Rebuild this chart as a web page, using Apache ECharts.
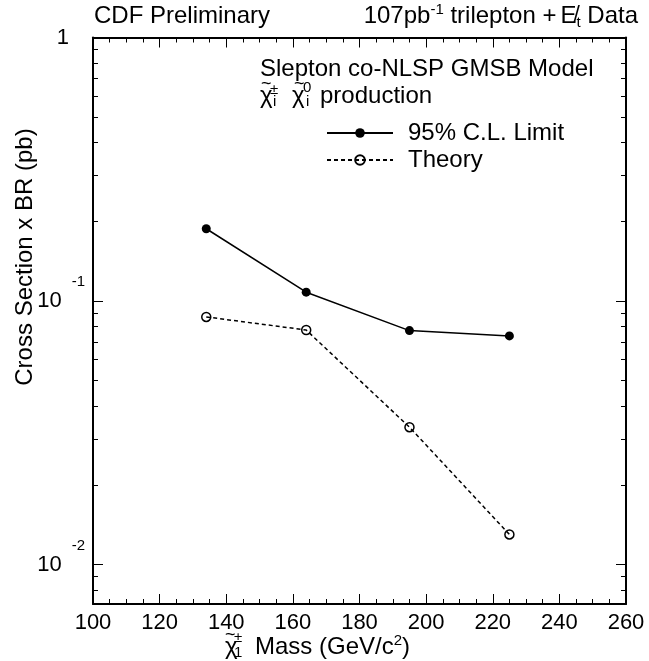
<!DOCTYPE html>
<html>
<head>
<meta charset="utf-8">
<script src="https://cdn.jsdelivr.net/npm/echarts@6/dist/echarts.min.js"></script>
<style>
  html, body { margin: 0; padding: 0; background: #fff; }
  #chart { width: 649px; height: 661px; }
</style>
</head>
<body>
<div id="chart"></div>
<script>
// Chargino mass points (GeV/c^2) and cross section x BR (pb)
const massPoints = [134, 164, 195, 225];
const limitXsec = [0.188, 0.108, 0.0772, 0.0737];
const theoryXsec = [0.087, 0.0776, 0.0332, 0.0130];

// Axis ranges and tick positions
const xRange = [100, 260];
const xStep = 20;
const yRange = [0.00708, 1];
const yMajorTicks = [0.01, 0.1, 1];
const yMinorTicks = [0.008, 0.009,
  0.02, 0.03, 0.04, 0.05, 0.06, 0.07, 0.08, 0.09,
  0.2, 0.3, 0.4, 0.5, 0.6, 0.7, 0.8, 0.9];

const seriesNames = ['95% C.L. Limit', 'Theory'];

const FONT = '"Liberation Sans", Arial, Helvetica, sans-serif';
const INK = '#000';

const chart = echarts.init(document.getElementById('chart'), null, { renderer: 'canvas' });

function pairs(xs, ys) { return xs.map((x, i) => [x, ys[i]]); }

// Shared frame styling
const frameLine = { show: true, lineStyle: { color: INK, width: 2 } };

function xAxisDef(position, withLabels) {
  return {
    type: 'value', position: position,
    min: xRange[0], max: xRange[1], interval: xStep,
    axisLine: frameLine,
    axisTick: { show: true, inside: true, length: 10, lineStyle: { color: INK, width: 1 } },
    minorTick: { show: true, splitNumber: 4, length: 5, lineStyle: { color: INK, width: 1 } },
    splitLine: { show: false },
    axisLabel: {
      show: withLabels, margin: 8, color: INK, fontSize: 22, fontFamily: FONT
    }
  };
}

function yAxisDef(position, ticks, tickLen, withLabels) {
  return {
    type: 'log', logBase: 10, position: position,
    min: yRange[0], max: yRange[1],
    axisLine: tickLen > 6 ? frameLine : { show: false },
    axisTick: { show: true, inside: true, length: tickLen, customValues: ticks,
                lineStyle: { color: INK, width: 1 } },
    minorTick: { show: false },
    splitLine: { show: false },
    axisLabel: {
      show: withLabels,
      customValues: ticks,
      margin: 8,
      formatter: function (v) {
        if (v >= 1) return '{one|1}';
        return '{b|10}{s|' + Math.round(Math.log10(v)) + '}';
      },
      rich: {
        b: { fontSize: 22, fontFamily: FONT, color: INK },
        s: { fontSize: 15, fontFamily: FONT, color: INK, padding: [0, 0, 38, 10] },
        one: { fontSize: 22, fontFamily: FONT, color: INK, padding: [0, 16, 0, 0] }
      }
    }
  };
}

// Small text helper for the annotation pieces
function txt(x, y, text, size, extra) {
  return Object.assign({
    type: 'text', x: x, y: y, silent: true,
    style: Object.assign({
      text: text, fontSize: size, fontFamily: FONT, fill: INK,
      align: 'left', textAlign: 'left', verticalAlign: 'middle', textVerticalAlign: 'middle'
    }, (extra && extra.style) || {})
  }, (extra && extra.el) || {});
}

const option = {
  backgroundColor: '#fff',
  animation: false,
  grid: { left: 93, right: 23, top: 37.5, bottom: 57, containLabel: false },
  xAxis: [xAxisDef('bottom', true), xAxisDef('top', false)],
  yAxis: [
    yAxisDef('left', yMajorTicks, 10, true),
    yAxisDef('left', yMinorTicks, 5, false),
    yAxisDef('right', yMajorTicks, 10, false),
    yAxisDef('right', yMinorTicks, 5, false)
  ],
  legend: {
    orient: 'vertical', left: 326, top: 121, padding: 0,
    itemWidth: 66, itemHeight: 12, itemGap: 3,
    selectedMode: false,
    textStyle: { fontSize: 24, fontFamily: FONT, color: INK, padding: [0, 0, 0, 10] },
    data: seriesNames
  },
  series: [
    {
      name: seriesNames[0], type: 'line', xAxisIndex: 0, yAxisIndex: 0,
      data: pairs(massPoints, limitXsec),
      symbol: 'circle', symbolSize: 9,
      itemStyle: { color: INK },
      lineStyle: { color: INK, width: 1.5 },
      z: 3
    },
    {
      name: seriesNames[1], type: 'line', xAxisIndex: 0, yAxisIndex: 0,
      data: pairs(massPoints, theoryXsec),
      symbol: 'circle', symbolSize: 9,
      itemStyle: { color: 'rgba(0,0,0,0)', borderColor: INK, borderWidth: 1.5 },
      lineStyle: { color: INK, width: 1.5, type: [4, 3] },
      z: 3
    }
  ],
  graphic: {
    elements: [
      // header, left
      txt(94, 16.7, 'CDF Preliminary', 24),
      // header, right: luminosity and channel
      txt(638, 16.7, '{a|107pb}{s|-1}{a| trilepton +}{e|E\u0338}{t|t}{a| Data}', 24, {
        style: {
          align: 'right', textAlign: 'right',
          rich: {
            a: { fontSize: 24, fontFamily: FONT, color: INK },
            e: { fontSize: 24, fontFamily: FONT, color: INK, padding: [0, 0, 0, 4] },
            s: { fontSize: 15, fontFamily: FONT, color: INK, padding: [0, 0, 13, 0] },
            t: { fontSize: 15, fontFamily: FONT, color: INK, padding: [12, 0, 0, 0] }
          }
        }
      }),
      // model description
      txt(260, 69.7, 'Slepton co-NLSP GMSB Model', 24),
      txt(260, 96.7, '\u03c7', 24),
      txt(261, 84, '~', 18),
      txt(270, 89.8, '\u00b1', 15),
      txt(273, 101.8, 'i', 15),
      txt(292, 96.7, '\u03c7', 24),
      txt(294, 84, '~', 18),
      txt(303, 87.8, '0', 15),
      txt(306, 101.8, 'i', 15),
      txt(320, 96.7, 'production', 24),
      // x axis title
      txt(225, 647.7, '\u03c7', 24),
      txt(225, 635, '~', 18),
      txt(234, 637.8, '\u00b1', 15),
      txt(234, 652.8, '1', 15),
      txt(255, 647.7, '{a|Mass (GeV/c}{s|2}{a|)}', 24, {
        style: {
          rich: {
            a: { fontSize: 24, fontFamily: FONT, color: INK },
            s: { fontSize: 15, fontFamily: FONT, color: INK, padding: [0, 0, 13, 0] }
          }
        }
      }),
      // y axis title
      txt(25, 257, 'Cross Section x BR (pb)', 24, {
        el: { rotation: Math.PI / 2 },
        style: { align: 'center', textAlign: 'center' }
      })
    ]
  }
};

chart.setOption(option);
</script>
</body>
</html>
